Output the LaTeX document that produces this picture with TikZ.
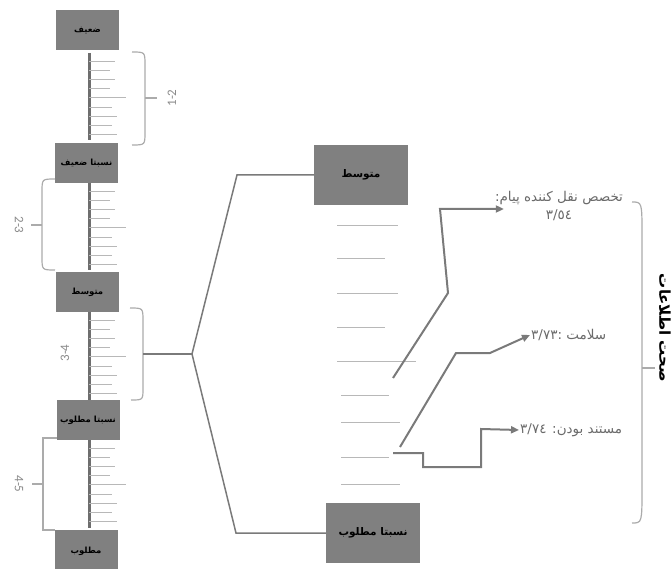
\documentclass[tikz,border=0pt]{standalone}
\usepackage{fontspec}
\usetikzlibrary{arrows.meta}
\setmainfont{Carlito}
\newfontfamily\farsi[Script=Arabic]{DejaVu Sans}
\TeXXeTstate=1
\newcommand{\rtl}[1]{\beginR #1\endR}
\newcommand{\ltr}[1]{\beginL #1\endL{}}
\definecolor{boxgray}{HTML}{808080}
\definecolor{bargray}{HTML}{6E6E6E}
\definecolor{tickgray}{HTML}{B8B8B8}
\definecolor{bracegray}{HTML}{ABABAB}
\definecolor{rangegray}{HTML}{8A8A8A}
\definecolor{linegray}{HTML}{7A7A7A}
\definecolor{labelgray}{HTML}{6A6A6A}

\begin{document}
\begin{tikzpicture}[x=1pt, y=-1pt,
    stagebox/.style = {fill=boxgray, minimum width=63, minimum height=40, inner sep=0pt,
                     font=\farsi\bfseries\fontsize{8.5}{9}\selectfont},
    bigbox/.style = {stagebox, minimum width=94, minimum height=60,
                     font=\farsi\bfseries\fontsize{10.5}{11}\selectfont},
    scalebar/.style = {draw=bargray, line width=3},
    tickline/.style = {draw=tickgray, line width=0.8},
    brace/.style  = {draw=bracegray, line width=1.2},
    spanlabel/.style = {text=rangegray, font=\fontsize{13}{14}\selectfont},
    fork/.style   = {draw=linegray, line width=1.5},
    arrow/.style  = {draw=linegray, line width=2, -{Triangle[length=8pt, width=7pt]}},
    score/.style  = {text=labelgray, align=center, inner sep=1pt,
                     font=\farsi\fontsize{13.5}{18}\selectfont},
    heading/.style = {font=\farsi\bfseries\fontsize{15}{16}\selectfont}]

\useasboundingbox (0,0) rectangle (672,569);

% left ladder
\node[stagebox] (weak)   at (87.5,  30.5) {\rtl{ضعیف}};
\node[stagebox] (rweak)  at (86.5, 163)   {\rtl{نسبتا ضعیف}};
\node[stagebox] (mid)    at (87.5, 292)   {\rtl{متوسط}};
\node[stagebox] (rgood)  at (88,   420)   {\rtl{نسبتا مطلوب}};
\node[stagebox, minimum height=42] (good) at (86, 551) {\rtl{مطلوب}};

\foreach \top/\bot in {53/140, 183/270, 312/400, 440/528} {
    \draw[scalebar] (89,\top) -- (89,\bot);
    \foreach \k/\len in {0/26, 1/21, 2/26, 3/21, 4/37, 5/23, 6/28, 7/23, 8/28}
        \draw[tickline] (89,\top+8+9.2*\k) -- ++(\len,0);
}

% ranges
\draw[brace] (132,52) .. controls (145,52) .. (145,65) -- (145,132) .. controls (145,145) .. (132,145);
\draw[brace] (145,98) -- (157,98);
\node[spanlabel, rotate=90] (r12) at (172,98) {1-2};

\draw[brace] (55,179) .. controls (42,179) .. (42,192) -- (42,257) .. controls (42,270) .. (55,270);
\draw[brace] (42,225) -- (31,225);
\node[spanlabel, rotate=-90] (r23) at (19,225) {2-3};

\draw[brace] (130,308) .. controls (143,308) .. (143,321) -- (143,388) .. controls (143,400) .. (131,400);
\coordinate (b34) at (143,354);
\node[spanlabel, rotate=90] (r34) at (65,353) {3-4};

\draw[brace] (57,438) -- (43,438) -- (43,530) -- (55,530);
\draw[brace] (43,484) -- (32,484);
\node[spanlabel, rotate=-90] (r45) at (19,484) {4-5};

% middle scale
\node[bigbox] (bmid)  at (361,175) {\rtl{متوسط}};
\node[bigbox] (bgood) at (373,533) {\rtl{نسبتا مطلوب}};

\foreach \y/\x/\len in {225/337/61, 258/337/48, 293/337/61, 327/337/48, 361/337/79,
                        395/341/48, 422/341/59, 457/341/48, 484/341/59}
    \draw[tickline] (\x,\y) -- ++(\len,0);

\coordinate (fork) at (192,354);
\draw[fork] (b34) -- (fork);
\draw[fork] (fork) -- (237,175) -- (bmid);
\draw[fork] (fork) -- (236,533) -- (bgood);

% scores
\node[score] (spec) at (559,206) {\rtl{تخصص نقل کننده پیام:}\\\rtl{\ltr{٣/٥٤}}};
\node[score, anchor=west] (health) at (530,335) {\rtl{سلامت :\ltr{٣/٧٣}}};
\node[score, anchor=west] (doc)    at (519,430) {\rtl{مستند بودن: \ltr{٣/٧٤}}};

\coordinate (s1) at (393,378);
\coordinate (s2) at (400,447);
\coordinate (s3) at (393,453);

\draw[arrow] (s1) -- (448,293) -- (440,209) -- ([shift={(10,3)}]spec.west);
\draw[arrow] (s2) -- (456,353) -- (490,353) -- (health.west);
\draw[arrow] (s3) -- (423,453) -- (423,467) -- (481,467) -- (481,429) -- (doc.west);

% right brace
\draw[brace] (632,202) .. controls (642,202) .. (642,235) -- (642,488) .. controls (642,523) .. (632,523);
\draw[brace] (642,368) -- (655,368);
\node[heading, rotate=-90] (info) at (665,328) {\rtl{صحت اطلاعات}};
\end{tikzpicture}
\end{document}
